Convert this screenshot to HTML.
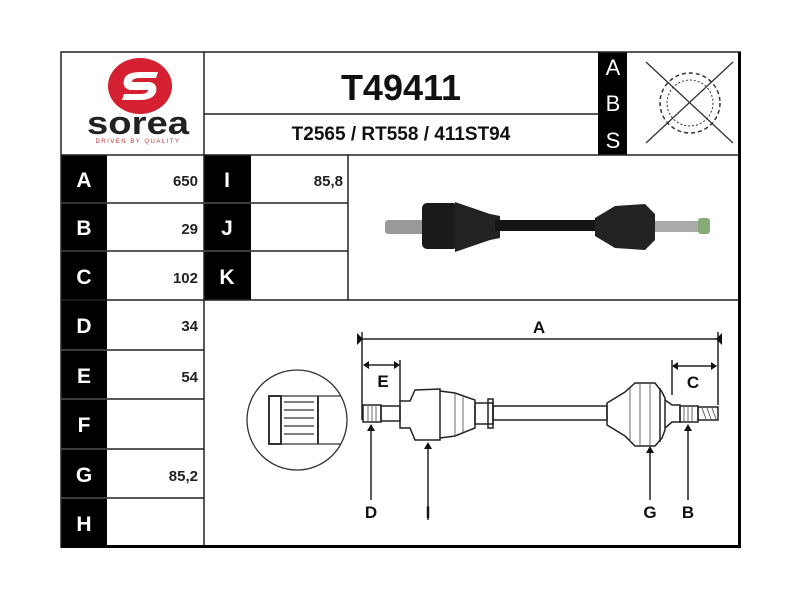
<!DOCTYPE html>
<html><head><meta charset="utf-8"><style>
body{margin:0;background:#fff;width:800px;height:600px;overflow:hidden}
svg{display:block}
text{font-family:"Liberation Sans",Arial,sans-serif}
</style></head><body>
<svg width="800" height="600" viewBox="0 0 800 600">
<rect width="800" height="600" fill="#fff"/>
<!-- black label columns -->
<rect x="61" y="155" width="46" height="392" fill="#000"/>
<rect x="204" y="155" width="47" height="145" fill="#000"/>
<rect x="598" y="52" width="29" height="103" fill="#000"/>
<!-- grid lines -->
<g stroke="#222" stroke-width="1.5" fill="none">
<rect x="61" y="52" width="679" height="495"/>
<line x1="61" y1="155" x2="740" y2="155"/>
<line x1="204" y1="52" x2="204" y2="547"/>
<line x1="204" y1="114" x2="598" y2="114"/>
<line x1="348" y1="155" x2="348" y2="300"/>
<line x1="107" y1="203" x2="348" y2="203"/>
<line x1="107" y1="251" x2="348" y2="251"/>
<line x1="61" y1="300" x2="740" y2="300"/>
<line x1="61" y1="350" x2="204" y2="350"/>
<line x1="61" y1="399" x2="204" y2="399"/>
<line x1="61" y1="449" x2="204" y2="449"/>
<line x1="61" y1="498" x2="204" y2="498"/>
</g>
<g stroke="#666" stroke-width="1">
<line x1="61" y1="203" x2="107" y2="203"/><line x1="61" y1="251" x2="107" y2="251"/>
<line x1="204" y1="203" x2="251" y2="203"/><line x1="204" y1="251" x2="251" y2="251"/>
<line x1="61" y1="350" x2="107" y2="350"/><line x1="61" y1="399" x2="107" y2="399"/>
<line x1="61" y1="449" x2="107" y2="449"/><line x1="61" y1="498" x2="107" y2="498"/>
</g>
<rect x="738" y="52" width="3" height="496" fill="#000"/>
<rect x="61" y="545" width="680" height="3" fill="#000"/>
<!-- logo -->
<ellipse cx="140" cy="86" rx="32" ry="28" fill="#d42030"/>
<path d="M124 80 Q126 72 140 72 L158 72 L156 78 L140 78 Q132 78 132 82 L150 82 Q158 84 156 92 Q153 100 140 100 L122 100 L124 94 L140 94 Q148 94 148 90 L130 90 Q122 88 124 80Z" fill="#fff"/>
<text x="138" y="134" font-size="32" font-weight="bold" text-anchor="middle" fill="#222" textLength="102" lengthAdjust="spacingAndGlyphs">sorea</text>
<text x="138" y="143" font-size="6" text-anchor="middle" fill="#c33" letter-spacing="1.5">DRIVEN BY QUALITY</text>
<!-- header -->
<text x="401" y="100" font-size="36" font-weight="bold" text-anchor="middle" fill="#111">T49411</text>
<text x="401" y="140" font-size="19" font-weight="bold" text-anchor="middle" fill="#111">T2565 / RT558 / 411ST94</text>
<g font-size="22" fill="#fff" text-anchor="middle"><text x="613" y="75">A</text><text x="613" y="111">B</text><text x="613" y="148">S</text></g>
<!-- ABS icon -->
<g stroke="#333" fill="none">
<circle cx="690" cy="103" r="30" stroke-dasharray="4 3" stroke-width="1.5"/>
<circle cx="690" cy="103" r="23" stroke-dasharray="2 2" stroke-width="1"/>
<line x1="646" y1="62" x2="733" y2="143" stroke-width="1.3"/>
<line x1="733" y1="62" x2="646" y2="143" stroke-width="1.3"/>
</g>
<!-- table labels -->
<g font-size="21" font-weight="bold" fill="#fff" text-anchor="middle">
<text x="84" y="187">A</text><text x="84" y="235">B</text><text x="84" y="284">C</text>
<text x="84" y="333">D</text><text x="84" y="383">E</text><text x="84" y="432">F</text>
<text x="84" y="482">G</text><text x="84" y="531">H</text>
<text x="227" y="187">I</text><text x="227" y="235">J</text><text x="227" y="284">K</text>
</g>
<g font-size="15" font-weight="bold" fill="#222" text-anchor="end">
<text x="198" y="186">650</text><text x="198" y="234">29</text><text x="198" y="283">102</text>
<text x="198" y="331">34</text><text x="198" y="382">54</text><text x="198" y="481">85,2</text>
<text x="343" y="186">85,8</text>
</g>
<!-- photo approx -->
<g>
<rect x="385" y="220" width="40" height="14" rx="3" fill="#999"/>
<rect x="422" y="203" width="36" height="46" rx="5" fill="#1a1a1a"/>
<path d="M455 202 L490 214 L500 216 L500 238 L490 240 L455 252Z" fill="#222"/>
<rect x="495" y="220" width="100" height="11" fill="#151515"/>
<path d="M595 218 L615 206 L645 204 L655 214 L655 240 L645 250 L615 248 L595 236Z" fill="#222"/>
<rect x="655" y="221" width="45" height="11" fill="#aaa"/>
<rect x="698" y="218" width="12" height="16" rx="3" fill="#8a7"/>
</g>
<!-- detail circle -->
<g stroke="#333" fill="none" stroke-width="1.3">
<circle cx="297" cy="420" r="50"/>
<rect x="269" y="396" width="12" height="48" stroke-width="2"/>
<line x1="281" y1="396" x2="340" y2="396"/><line x1="281" y1="444" x2="340" y2="444"/>
<line x1="318" y1="396" x2="318" y2="444" stroke-width="2"/>
<line x1="284" y1="402" x2="314" y2="402"/><line x1="284" y1="410" x2="314" y2="410"/>
<line x1="284" y1="418" x2="314" y2="418"/><line x1="284" y1="426" x2="314" y2="426"/>
<line x1="284" y1="434" x2="314" y2="434"/>
</g>
<!-- drawing -->
<g stroke="#222" fill="none" stroke-width="1.5">
<line x1="358" y1="339" x2="721" y2="339"/>
<line x1="362" y1="332" x2="362" y2="420"/>
<line x1="718" y1="332" x2="718" y2="405"/>
<line x1="364" y1="365" x2="399" y2="365"/>
<line x1="400" y1="360" x2="400" y2="402"/>
<line x1="673" y1="366" x2="716" y2="366"/>
<line x1="672" y1="360" x2="672" y2="395"/>
<rect x="363" y="405" width="18" height="17"/>
<rect x="381" y="406" width="19" height="15"/>
<path d="M400 401 L410 401 L415 390 L440 389 L440 440 L415 440 L410 428 L400 428Z"/>
<path d="M440 391 L455 393 L475 400 L475 428 L455 436 L440 438"/>
<rect x="475" y="403" width="18" height="21"/>
<rect x="488" y="399" width="5" height="29"/>
<rect x="493" y="406" width="114" height="14"/>
<path d="M607 403 L625 392 L635 383 L655 383 L662 392 L665 398 L665 430 L662 438 L655 446 L635 446 L625 436 L607 425Z"/>
<line x1="660" y1="388" x2="660" y2="442"/>
<path d="M665 400 L672 405 L680 405 L680 422 L672 422 L665 428"/>
<rect x="680" y="406" width="18" height="16"/>
<rect x="698" y="407" width="20" height="13"/>
<line x1="371" y1="430" x2="371" y2="500"/>
<line x1="428" y1="448" x2="428" y2="520"/>
<line x1="650" y1="452" x2="650" y2="500"/>
<line x1="688" y1="430" x2="688" y2="500"/>
</g>
<g stroke="#444" stroke-width="0.8">
<line x1="368" y1="406" x2="368" y2="421"/><line x1="372" y1="406" x2="372" y2="421"/><line x1="376" y1="406" x2="376" y2="421"/>
<line x1="684" y1="407" x2="684" y2="421"/><line x1="688" y1="407" x2="688" y2="421"/><line x1="692" y1="407" x2="692" y2="421"/>
<line x1="702" y1="408" x2="706" y2="419"/><line x1="707" y1="408" x2="711" y2="419"/><line x1="712" y1="408" x2="716" y2="419"/>
<line x1="630" y1="388" x2="630" y2="442"/><line x1="640" y1="384" x2="640" y2="445"/><line x1="650" y1="384" x2="650" y2="445"/>
<line x1="455" y1="394" x2="455" y2="435"/><line x1="463" y1="397" x2="463" y2="432"/>
</g>
<g fill="#111">
<path d="M357 333 L363 339 L357 345Z"/><path d="M722 333 L716 339 L722 345Z"/>
<path d="M363 365 L369 361 L369 369Z"/><path d="M400 365 L394 361 L394 369Z"/>
<path d="M672 366 L678 362 L678 370Z"/><path d="M717 366 L711 362 L711 370Z"/>
<path d="M371 424 L367 431 L375 431Z"/><path d="M428 442 L424 449 L432 449Z"/>
<path d="M650 446 L646 453 L654 453Z"/><path d="M688 424 L684 431 L692 431Z"/>
</g>
<g font-size="17" font-weight="bold" fill="#111" text-anchor="middle">
<text x="539" y="333">A</text><text x="383" y="387">E</text><text x="693" y="388">C</text>
<text x="371" y="518">D</text><text x="428" y="518">I</text><text x="650" y="518">G</text><text x="688" y="518">B</text>
</g>
</svg>
</body></html>
